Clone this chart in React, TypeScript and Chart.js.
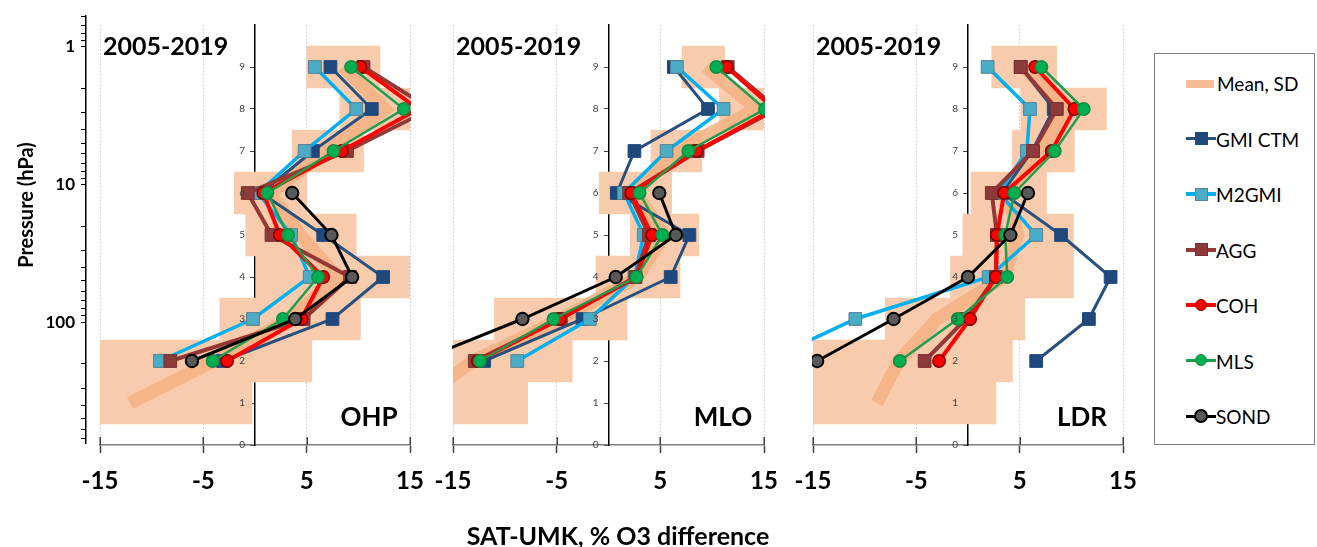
import React, { useEffect, useRef } from "react";
import { Chart, registerables } from "chart.js";

Chart.register(...registerables);

const FONT = "Lato, 'Open Sans', sans-serif";

// ---------- data ----------
const LEVELS = [1, 2, 3, 4, 5, 6, 7, 8, 9];
const MODEL_LEVELS = [2, 3, 4, 5, 6, 7, 8, 9];
const SOND_LEVELS = [2, 3, 4, 5, 6];
const LAYER_TICKS = [0, 1, 2, 3, 4, 5, 6, 7, 8, 9];
const X_TICKS = [-15, -5, 5, 15];
const PRESSURE_TICKS = [
  0.6, 0.7, 0.8, 0.9, 1, 2, 3, 4, 5, 6, 7, 8, 9, 10, 20, 30, 40, 50, 60, 70, 80, 90,
  100, 200, 300, 400, 500, 600, 700,
];
const PRESSURE_LABELS = [1, 10, 100];
const PERIOD = "2005-2019";
const STATIONS = ["OHP", "MLO", "LDR"];
const X_TITLE = "SAT-UMK, % O3 difference";
const Y_TITLE = "Pressure (hPa)";
const MEAN_SD_LABEL = "Mean, SD";

// OHP
const OHP_MEAN = [-12.1, -4.0, 3.4, 8.0, 4.4, 1.5, 7.0, 12.6, 8.5];
const OHP_SD_LOW = [-24.0, -15.5, -3.4, 0.1, -0.9, -2.0, 3.6, 8.2, 5.0];
const OHP_SD_HIGH = [-0.3, 5.5, 10.2, 16.0, 9.8, 5.0, 10.5, 17.0, 12.1];
const OHP_GMI = [-3.1, 7.5, 12.4, 6.6, 0.6, 5.6, 11.3, 7.3];
const OHP_M2GMI = [-9.2, -0.2, 5.3, 3.5, 0.3, 4.8, 9.8, 5.8];
const OHP_AGG = [-8.2, 4.7, 9.2, 1.6, -0.7, 8.9, 17.0, 10.5];
const OHP_COH = [-2.7, 4.5, 6.6, 2.4, 0.8, 8.4, 15.8, 10.2];
const OHP_MLS = [-4.1, 2.7, 6.1, 3.2, 1.2, 7.6, 14.4, 9.3];
const OHP_SOND = [-6.1, 3.9, 9.4, 7.4, 3.6];

// MLO
const MLO_MEAN = [-18.6, -13.1, -4.6, 2.8, 5.4, 2.6, 6.5, 14.3, 9.4];
const MLO_SD_LOW = [-30.0, -22.0, -11.0, -1.2, 2.1, -0.9, 4.1, 10.7, 7.1];
const MLO_SD_HIGH = [-7.8, -3.5, 1.8, 6.9, 8.7, 6.1, 9.0, 18.0, 11.2];
const MLO_GMI = [-12.0, -2.5, 6.0, 7.8, 0.8, 2.5, 9.6, 6.3];
const MLO_M2GMI = [-8.8, -1.8, 2.5, 3.4, 1.5, 5.6, 11.1, 6.6];
const MLO_AGG = [-12.9, -4.6, 2.6, 3.9, 2.0, 8.6, 16.3, 11.5];
const MLO_COH = [-12.6, -4.7, 2.7, 4.2, 2.2, 8.5, 16.0, 11.4];
const MLO_MLS = [-12.4, -5.3, 2.7, 5.2, 3.0, 7.7, 15.1, 10.4];
const MLO_SOND = [-18.4, -8.3, 0.7, 6.5, 4.9];

// LDR
const LDR_MEAN = [-8.8, -6.7, -3.0, 3.5, 4.8, 3.9, 7.3, 9.2, 5.4];
const LDR_SD_LOW = [-20.0, -16.0, -8.0, -1.7, -0.5, 0.3, 4.3, 5.1, 2.3];
const LDR_SD_HIGH = [2.7, 4.3, 5.5, 10.2, 10.2, 7.6, 10.3, 13.4, 8.6];
const LDR_GMI = [6.6, 11.7, 13.8, 9.0, 3.3, 6.2, 8.3, 5.1];
const LDR_M2GMI = [-19.6, -10.9, 2.0, 6.6, 3.0, 5.7, 6.0, 1.9];
const LDR_AGG = [-4.2, -0.2, 2.7, 2.8, 2.3, 6.3, 8.6, 5.1];
const LDR_COH = [-2.8, 0.2, 2.7, 2.8, 3.5, 8.1, 10.3, 6.5];
const LDR_MLS = [-6.6, -1.0, 3.8, 3.6, 4.5, 8.4, 11.2, 7.1];
const LDR_SOND = [-14.6, -7.2, 0.0, 4.1, 5.8];

type SeriesKey = "gmi" | "m2gmi" | "agg" | "coh" | "mls" | "sond";

const PANELS = [
  { name: STATIONS[0], mean: OHP_MEAN, sdLow: OHP_SD_LOW, sdHigh: OHP_SD_HIGH,
    gmi: OHP_GMI, m2gmi: OHP_M2GMI, agg: OHP_AGG, coh: OHP_COH, mls: OHP_MLS, sond: OHP_SOND },
  { name: STATIONS[1], mean: MLO_MEAN, sdLow: MLO_SD_LOW, sdHigh: MLO_SD_HIGH,
    gmi: MLO_GMI, m2gmi: MLO_M2GMI, agg: MLO_AGG, coh: MLO_COH, mls: MLO_MLS, sond: MLO_SOND },
  { name: STATIONS[2], mean: LDR_MEAN, sdLow: LDR_SD_LOW, sdHigh: LDR_SD_HIGH,
    gmi: LDR_GMI, m2gmi: LDR_M2GMI, agg: LDR_AGG, coh: LDR_COH, mls: LDR_MLS, sond: LDR_SOND },
];

// ---------- styles ----------
const STYLES: Record<SeriesKey, any> = {
  gmi: { label: "GMI CTM", line: "#27507E", fill: "#1F497D", border: "#1F497D", style: "rect", lw: 3, r: 9, bw: 1 },
  m2gmi: { label: "M2GMI", line: "#00B0F0", fill: "#4BACC6", border: "#5A7F90", style: "rect", lw: 3.5, r: 9, bw: 1 },
  agg: { label: "AGG", line: "#953735", fill: "#8E3A3A", border: "#7A2E2E", style: "rect", lw: 4, r: 9, bw: 1 },
  coh: { label: "COH", line: "#FF0000", fill: "#FF0000", border: "#7F0000", style: "circle", lw: 4, r: 6.2, bw: 1.5 },
  mls: { label: "MLS", line: "#1E9E4C", fill: "#00B050", border: "#178A40", style: "circle", lw: 2.5, r: 6.2, bw: 1.5 },
  sond: { label: "SOND", line: "#000000", fill: "#595959", border: "#000000", style: "circle", lw: 3, r: 6.2, bw: 2 },
};
const LEGEND_ORDER: SeriesKey[] = ["gmi", "m2gmi", "agg", "coh", "mls", "sond"];
const DRAW_ORDER: SeriesKey[] = ["sond", "mls", "coh", "agg", "m2gmi", "gmi"]; // first = on top
const SD_COLOR = "#F8CBAD";
const MEAN_COLOR = "rgba(244,177,131,0.85)";

const PANEL_AREA_LEFT = [100, 453, 813];
const PANEL_AREA_WIDTH = [310, 311, 310];
const PAD = 40;
const CANVAS_H = 547;
const AREA_TOP = 25;
const AREA_BOTTOM = 445;
const LAYER_LABEL_SHIFT = 10;

function makePanelConfig(idx: number) {
  const p: any = PANELS[idx];
  const datasets: any[] = [];
  DRAW_ORDER.forEach((key) => {
    const s = STYLES[key];
    const vals: number[] = p[key];
    const lv = key === "sond" ? SOND_LEVELS : MODEL_LEVELS;
    datasets.push({
      type: "line",
      label: s.label,
      indexAxis: "y",
      data: vals.map((v, i) => ({ x: v, y: lv[i] })),
      borderColor: s.line,
      borderWidth: s.lw,
      backgroundColor: s.fill,
      pointBackgroundColor: s.fill,
      pointBorderColor: s.border,
      pointBorderWidth: s.bw,
      pointStyle: s.style,
      pointRadius: s.r,
      pointHoverRadius: s.r,
      tension: 0,
      fill: false,
      clip: 1,
    });
  });
  datasets.push({
    type: "line",
    label: "Mean",
    indexAxis: "y",
    data: p.mean.map((v: number, i: number) => ({ x: v, y: LEVELS[i] })),
    borderColor: MEAN_COLOR,
    borderWidth: 13,
    borderCapStyle: "butt",
    pointRadius: 0,
    tension: 0,
    fill: false,
    clip: 0,
  });
  datasets.push({
    type: "bar",
    label: "SD",
    indexAxis: "y",
    data: LEVELS.map((l, i) => ({ x: [p.sdLow[i], p.sdHigh[i]], y: l })),
    backgroundColor: SD_COLOR,
    borderWidth: 0,
    barPercentage: 1,
    categoryPercentage: 1,
    grouped: false,
    clip: 0,
  });

  const layerLabelPlugin = {
    id: "layerLabelShift" + idx,
    beforeDraw(chart: any) {
      const sc = chart.scales.y;
      if (sc && typeof sc.getLabelItems === "function") {
        const items = sc.getLabelItems(chart.chartArea);
        items.forEach((it: any) => {
          if (!it._shifted && it.options && it.options.translation) {
            it.options.translation[0] -= LAYER_LABEL_SHIFT;
            it._shifted = true;
          }
        });
      }
    },
  };

  // upper half of the crossing tick marks on the bottom axis
  const crossTickPlugin = {
    id: "crossTicks" + idx,
    afterDraw(chart: any) {
      const { ctx, chartArea: a, scales } = chart;
      ctx.save();
      ctx.strokeStyle = "#404040";
      ctx.lineWidth = 1.5;
      ctx.beginPath();
      X_TICKS.forEach((v) => {
        const px = Math.round(scales.x.getPixelForValue(v)) + 0.25;
        ctx.moveTo(px, a.bottom);
        ctx.lineTo(px, a.bottom - 8);
      });
      ctx.stroke();
      ctx.restore();
    },
  };

  const textPlugin = {
    id: "panelText" + idx,
    afterDraw(chart: any) {
      const { ctx, chartArea: a } = chart;
      ctx.save();
      ctx.fillStyle = "#000";
      ctx.textBaseline = "alphabetic";
      ctx.font = `bold 25px ${FONT}`;
      ctx.textAlign = "left";
      ctx.fillText(PERIOD, a.left + 3, a.top + 30);
      ctx.font = `bold 26px ${FONT}`;
      ctx.textAlign = "center";
      ctx.fillText(p.name, a.left + 0.868 * (a.right - a.left), a.bottom - 19);
      if (idx === 1) {
        ctx.font = `bold 25px ${FONT}`;
        ctx.textAlign = "center";
        ctx.fillText(X_TITLE, 618 - PANEL_AREA_LEFT[1] + a.left, a.bottom + 100);
      }
      ctx.restore();
    },
  };

  return {
    type: "line",
    data: { datasets },
    options: {
      responsive: false,
      animation: false,
      events: [],
      indexAxis: "y",
      layout: { padding: { left: PAD, right: PAD, top: AREA_TOP, bottom: 0 } },
      plugins: { legend: { display: false }, tooltip: { enabled: false } },
      scales: {
        x: {
          type: "linear",
          position: "bottom",
          min: -15,
          max: 15,
          offset: false,
          afterBuildTicks: (ax: any) => {
            ax.ticks = X_TICKS.map((v) => ({ value: v }));
          },
          afterFit: (s: any) => {
            s.height = CANVAS_H - AREA_BOTTOM;
          },
          ticks: {
            font: { family: FONT, size: 24, weight: "bold" },
            color: "#000",
            padding: 14,
            maxRotation: 0,
            minRotation: 0,
            autoSkip: false,
          },
          grid: {
            offset: false,
            color: "#C8C8C8",
            lineWidth: 1,
            tickColor: "#404040",
            tickLength: 8,
            tickWidth: 1.5,
            drawTicks: true,
          },
          border: { display: true, color: "#7F7F7F", width: 1.5, dash: [1.5, 2] },
        },
        y: {
          type: "linear",
          axis: "y",
          position: { x: 0 },
          min: 0,
          max: 10,
          offset: false,
          afterBuildTicks: (ax: any) => {
            ax.ticks = LAYER_TICKS.map((v) => ({ value: v }));
          },
          ticks: { font: { family: FONT, size: 10 }, color: "#404040", padding: 5, z: 1, autoSkip: false },
          grid: { offset: false, drawOnChartArea: false, drawTicks: true, tickLength: 4, color: "#404040", lineWidth: 1 },
          border: { display: true, color: "#000", width: 1.5 },
        },
      },
    },
    plugins: [layerLabelPlugin, crossTickPlugin, textPlugin],
  };
}

function makePressureConfig() {
  const titlePlugin = {
    id: "pressureTitle",
    afterDraw(chart: any) {
      const { ctx } = chart;
      ctx.save();
      ctx.translate(27, 205);
      ctx.rotate(-Math.PI / 2);
      ctx.font = `bold 20px ${FONT}`;
      ctx.fillStyle = "#000";
      ctx.textAlign = "center";
      ctx.textBaseline = "middle";
      ctx.fillText(Y_TITLE, 0, 0);
      ctx.restore();
    },
  };
  return {
    type: "scatter",
    data: { datasets: [] },
    options: {
      responsive: false,
      animation: false,
      events: [],
      layout: { padding: { left: 0, right: 10, top: 13, bottom: 14 } },
      plugins: { legend: { display: false }, tooltip: { enabled: false } },
      scales: {
        x: { display: false, type: "linear", min: 0, max: 1 },
        y: {
          type: "logarithmic",
          position: "left",
          reverse: true,
          min: 0.6,
          max: 762,
          afterBuildTicks: (ax: any) => {
            ax.ticks = PRESSURE_TICKS.map((v) => ({ value: v }));
          },
          afterFit: (s: any) => {
            s.width = 86;
          },
          ticks: {
            callback: (v: number) => (PRESSURE_LABELS.includes(v) ? String(v) : ""),
            font: { family: FONT, size: 17, weight: "bold" },
            color: "#000",
            padding: 6,
            autoSkip: false,
          },
          grid: { drawOnChartArea: false, drawTicks: true, tickLength: 5, color: "#000", lineWidth: 1 },
          border: { display: true, color: "#000", width: 1.5 },
        },
      },
    },
    plugins: [titlePlugin],
  };
}

function LegendSample({ k }: { k: SeriesKey }) {
  const s = STYLES[k];
  const size = s.style === "rect" ? 11 : 10;
  return (
    <div style={{ position: "absolute", left: 31, top: -1, width: 30, height: 22 }}>
      <div style={{ position: "absolute", left: 0, top: 11 - s.lw / 2, width: 30, height: s.lw, background: s.line }} />
      <div
        style={{
          position: "absolute",
          left: 15 - size / 2 - s.bw,
          top: 11 - size / 2 - s.bw,
          width: size,
          height: size,
          background: s.fill,
          border: `${s.bw}px solid ${s.border}`,
          borderRadius: s.style === "circle" ? "50%" : 0,
        }}
      />
    </div>
  );
}

const LEGEND_TOP = 53;
const LEGEND_CENTERS = [83, 138.5, 194, 249.5, 305, 360.5, 416];

export default function App() {
  const pRef = useRef<HTMLCanvasElement>(null);
  const r0 = useRef<HTMLCanvasElement>(null);
  const r1 = useRef<HTMLCanvasElement>(null);
  const r2 = useRef<HTMLCanvasElement>(null);

  useEffect(() => {
    const charts: Chart[] = [];
    if (pRef.current) charts.push(new Chart(pRef.current, makePressureConfig() as any));
    [r0, r1, r2].forEach((r, i) => {
      if (r.current) charts.push(new Chart(r.current, makePanelConfig(i) as any));
    });
    return () => charts.forEach((c) => c.destroy());
  }, []);

  return (
    <div style={{ position: "absolute", left: 0, top: 0, width: 1317, height: 547, background: "#fff" }}>
      <canvas ref={pRef} width={100} height={460} style={{ position: "absolute", left: 0, top: 0 }} />
      {[r0, r1, r2].map((r, i) => (
        <canvas
          key={i}
          ref={r}
          width={PANEL_AREA_WIDTH[i] + 2 * PAD}
          height={CANVAS_H}
          style={{ position: "absolute", left: PANEL_AREA_LEFT[i] - PAD, top: 0 }}
        />
      ))}
      <div
        style={{
          position: "absolute",
          left: 1154,
          top: LEGEND_TOP,
          width: 161,
          height: 392,
          border: "1px solid #7F7F7F",
          boxSizing: "border-box",
          background: "#fff",
          fontFamily: FONT,
          fontSize: 19,
          color: "#000",
        }}
      >
        <div style={{ position: "absolute", left: 0, top: LEGEND_CENTERS[0] - LEGEND_TOP - 11, width: 160, height: 22 }}>
          <div style={{ position: "absolute", left: 31, top: 7, width: 28, height: 8, background: "#F6BE96" }} />
          <div style={{ position: "absolute", left: 62, top: 0, lineHeight: "22px", whiteSpace: "nowrap" }}>{MEAN_SD_LABEL}</div>
        </div>
        {LEGEND_ORDER.map((k, i) => (
          <div
            key={k}
            style={{ position: "absolute", left: 0, top: LEGEND_CENTERS[i + 1] - LEGEND_TOP - 11, width: 160, height: 22 }}
          >
            <LegendSample k={k} />
            <div style={{ position: "absolute", left: 61, top: 0, lineHeight: "22px", whiteSpace: "nowrap" }}>
              {STYLES[k].label}
            </div>
          </div>
        ))}
      </div>
    </div>
  );
}
